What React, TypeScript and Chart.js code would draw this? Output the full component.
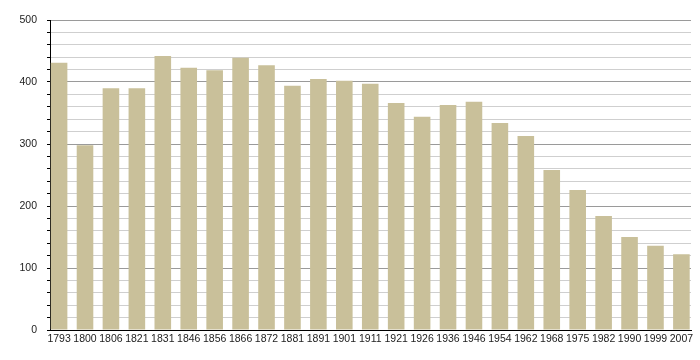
import React, { useEffect, useRef } from "react";
import { Chart, registerables } from "chart.js";

Chart.register(...registerables);

const years = ["1793","1800","1806","1821","1831","1846","1856","1866","1872","1881","1891","1901","1911","1921","1926","1936","1946","1954","1962","1968","1975","1982","1990","1999","2007"];
const population = [431,298,390,390,442,423,419,439,427,394,405,402,397,366,344,363,368,334,313,258,226,184,150,136,122];
const yTicks = [0,100,200,300,400,500];

export default function App() {
  const ref = useRef<HTMLCanvasElement | null>(null);
  useEffect(() => {
    if (!ref.current) return;
    const font = { family: "'Liberation Sans', Arial, sans-serif", size: 10.5 };
    const chart = new Chart(ref.current, {
      type: "bar",
      data: {
        datasets: [{
          data: population.map((v, i) => ({ x: i, y: v })),
          backgroundColor: "#c9c09a",
          borderWidth: 0,
          barPercentage: 0.64,
          categoryPercentage: 1,
        }],
      },
      options: {
        animation: false,
        responsive: false,
        layout: { padding: { top: 20, right: 9, left: 0, bottom: 0 } },
        plugins: { legend: { display: false }, tooltip: { enabled: false } },
        scales: {
          x: {
            type: "linear",
            offset: false,
            min: -0.35,
            max: 24.37,
            grid: { display: false, drawTicks: false },
            border: { display: true, color: "#000", width: 1 },
            afterBuildTicks: (s: any) => { s.ticks = years.map((_, i) => ({ value: i })); },
            ticks: {
              autoSkip: false,
              maxRotation: 0,
              padding: 3,
              color: "#222",
              font,
              callback: (v: any) => years[v] ?? "",
            },
            afterFit: (s: any) => { s.height = 30; },
          },
          y: {
            min: 0,
            max: 500,
            grid: {
              color: (c: any) => (c.tick && c.tick.value % 100 === 0 ? "#9a9a9a" : "#cfcfcf"),
              tickColor: "#000",
              tickLength: 3,
              lineWidth: 1,
            },
            border: { display: true, color: "#000", width: 1 },
            ticks: {
              stepSize: 20,
              autoSkip: false,
              padding: 10,
              color: "#222",
              font,
              callback: (v: any) => (yTicks.includes(v) ? String(v) : ""),
            },
            afterFit: (s: any) => { s.width = 50; },
          },
        },
      },
    });
    return () => chart.destroy();
  }, []);
  return (
    <div style={{ position: "absolute", left: 0, top: 0, width: 700, height: 360, background: "#fff" }}>
      <canvas ref={ref} width={700} height={360} />
    </div>
  );
}
